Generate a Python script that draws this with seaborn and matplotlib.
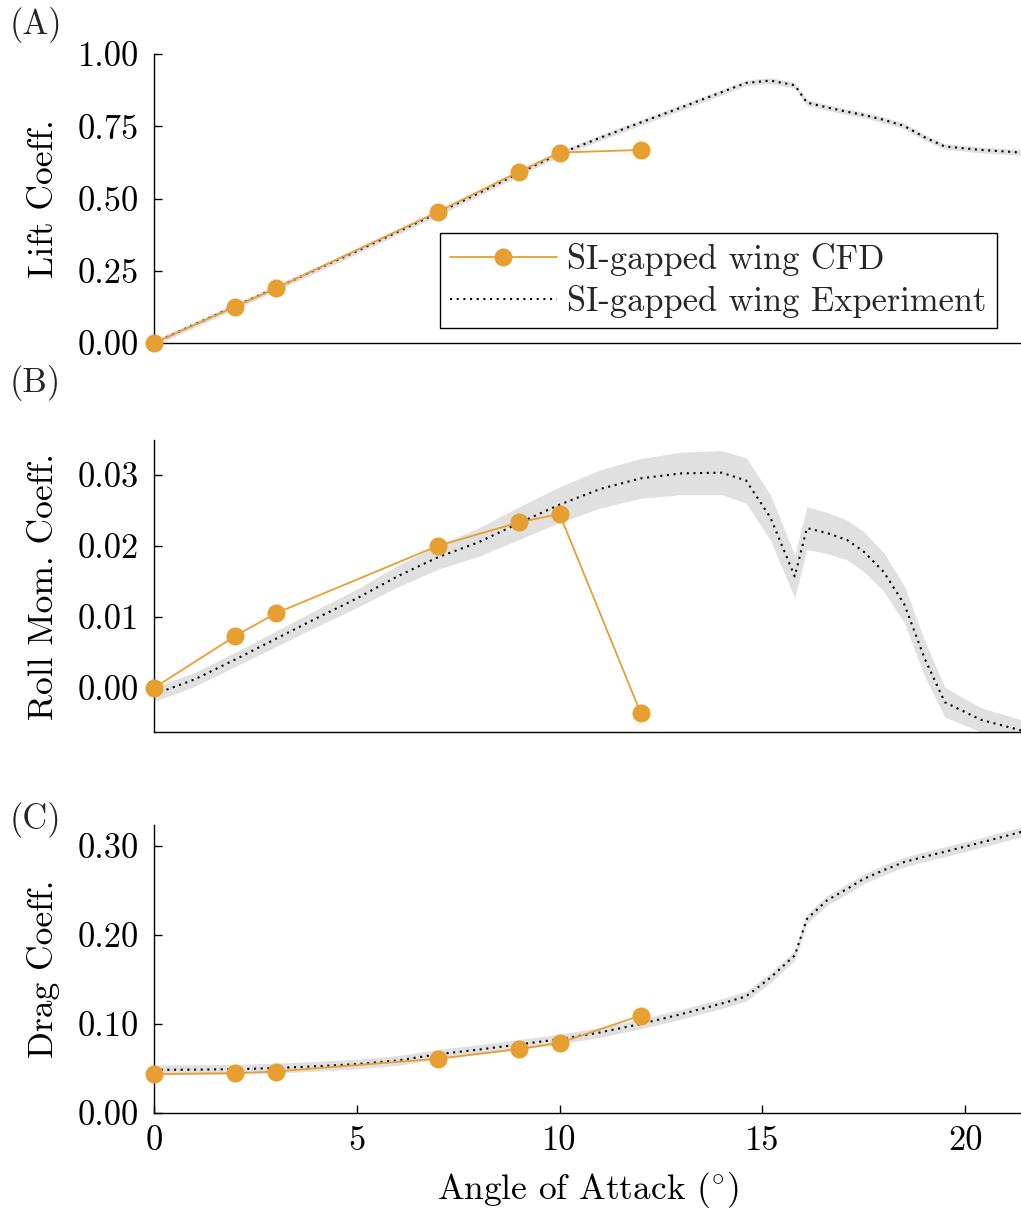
import numpy as np
import pandas as pd
import matplotlib
matplotlib.use("Agg")
import matplotlib.pyplot as plt
import seaborn as sns
from matplotlib.ticker import FormatStrFormatter, FixedLocator

# ---------------- data ----------------
cfd_alpha = [0, 2, 3, 7, 9, 10, 12]
cfd_lift = [0.000, 0.126, 0.189, 0.454, 0.593, 0.659, 0.668]
cfd_roll = [0.0000, 0.0073, 0.0105, 0.0200, 0.0233, 0.0245, -0.0035]
cfd_drag = [0.0437, 0.0448, 0.0466, 0.0610, 0.0719, 0.0787, 0.1095]

exp_alpha = [0, 1, 2, 3, 4, 5, 6, 7, 8, 9, 10, 11, 12, 13, 14, 14.6, 15.2,
             15.8, 16.1, 16.6, 17.1, 17.5, 18, 18.5, 19, 19.5, 20.4, 21.4]
exp_lift = [0.000, 0.064, 0.127, 0.190, 0.254, 0.318, 0.384, 0.450, 0.518,
            0.588, 0.655, 0.710, 0.763, 0.815, 0.868, 0.900, 0.908, 0.892,
            0.832, 0.815, 0.800, 0.789, 0.772, 0.751, 0.712, 0.680, 0.668, 0.659]
exp_lift_err = [0.010] * 28
exp_roll = [-0.0009, 0.0012, 0.0040, 0.0069, 0.0098, 0.0126, 0.0157, 0.0184,
            0.0205, 0.0232, 0.0258, 0.0280, 0.0295, 0.0302, 0.0303, 0.0292,
            0.0240, 0.0157, 0.0225, 0.0218, 0.0208, 0.0192, 0.0163, 0.0118,
            0.0042, -0.0020, -0.0045, -0.0060]
exp_roll_err = [0.0010, 0.0010, 0.0010, 0.0011, 0.0012, 0.0013, 0.0015, 0.0017,
                0.0020, 0.0023, 0.0025, 0.0027, 0.0028, 0.0030, 0.0031, 0.0032,
                0.0032, 0.0030, 0.0030, 0.0029, 0.0028, 0.0028, 0.0027, 0.0026,
                0.0025, 0.0021, 0.0017, 0.0015]
exp_drag = [0.0485, 0.0487, 0.0492, 0.0505, 0.0525, 0.0550, 0.0590, 0.0660,
            0.0712, 0.0770, 0.0830, 0.0905, 0.1000, 0.1110, 0.1230, 0.1310,
            0.1520, 0.1770, 0.2180, 0.2390, 0.2520, 0.2630, 0.2730, 0.2820,
            0.2880, 0.2935, 0.3040, 0.3160]
exp_drag_err = [0.0055] * 28

panel_tags = ["(A)", "(B)", "(C)"]
y_labels = ["Lift Coeff.", "Roll Mom. Coeff.", "Drag Coeff."]
y_ticks = [[0.0, 0.25, 0.5, 0.75, 1.0], [0.0, 0.01, 0.02, 0.03], [0.0, 0.1, 0.2, 0.3]]
x_ticks = [0, 5, 10, 15, 20]
x_label = r"Angle of Attack $(^{\circ})$"
legend_labels = ["SI-gapped wing CFD", "SI-gapped wing Experiment"]

# ---------------- style ----------------
sns.set_theme(style="ticks")
plt.rcParams["font.family"] = ["cmr10", "DejaVu Serif"]
plt.rcParams["mathtext.fontset"] = "cm"
plt.rcParams["axes.formatter.use_mathtext"] = True
plt.rcParams["axes.unicode_minus"] = False

FS = 24.8
LFS = 25.5
ORANGE = "#E89F31"
BAND = "#E0E0E0"

cfd_df = pd.DataFrame({"alpha": cfd_alpha, "lift": cfd_lift, "roll": cfd_roll, "drag": cfd_drag})
exp_df = pd.DataFrame({"alpha": exp_alpha, "lift": exp_lift, "roll": exp_roll, "drag": exp_drag,
                       "lift_err": exp_lift_err, "roll_err": exp_roll_err, "drag_err": exp_drag_err})

fig = plt.figure(figsize=(10.21, 12.16), dpi=100)
W, H = 1021, 1216
boxes = [(54, 343), (440, 732), (825, 1113)]
ylims = [(0.0, 1.0), (-0.0062, 0.0349), (0.0, 0.3236)]
tag_y = [25, 383, 820]
cols = ["lift", "roll", "drag"]

axes = []
for i, (top, bot) in enumerate(boxes):
    ax = fig.add_axes([154 / W, 1 - bot / H, (W - 154) / W, (bot - top) / H])
    axes.append(ax)
    c = cols[i]
    ax.fill_between(exp_df["alpha"], exp_df[c] - exp_df[c + "_err"], exp_df[c] + exp_df[c + "_err"],
                    color=BAND, linewidth=0, zorder=1)
    sns.lineplot(data=exp_df, x="alpha", y=c, ax=ax, color="black", linewidth=1.5,
                 linestyle=(0, (1, 2.2)), zorder=2, label=legend_labels[1] if i == 0 else None,
                 legend=False)
    sns.lineplot(data=cfd_df, x="alpha", y=c, ax=ax, color=ORANGE, linewidth=1.3,
                 marker="o", markersize=13, markeredgewidth=0, zorder=3, clip_on=False,
                 label=legend_labels[0] if i == 0 else None, legend=False)
    ax.set_xlim(0, 21.38)
    ax.set_ylim(*ylims[i])
    ax.yaxis.set_major_locator(FixedLocator(y_ticks[i]))
    ax.yaxis.set_major_formatter(FormatStrFormatter("%.2f"))
    ax.tick_params(axis="y", direction="in", length=6, width=1, labelsize=FS, pad=11, colors="black")
    for s in ["top", "right"]:
        ax.spines[s].set_visible(False)
    for s in ["left", "bottom"]:
        ax.spines[s].set_color("black")
        ax.spines[s].set_linewidth(1.0)
    ax.set_ylabel(y_labels[i], fontsize=LFS, color="black")
    ax.yaxis.set_label_coords(-0.108, 0.5)
    if i < 2:
        ax.tick_params(axis="x", length=0, labelbottom=False)
        ax.set_xlabel("")
    else:
        ax.xaxis.set_major_locator(FixedLocator(x_ticks))
        ax.xaxis.set_major_formatter(FormatStrFormatter("%d"))
        ax.tick_params(axis="x", direction="in", length=6, width=1, labelsize=FS, pad=9, colors="black")
        ax.set_xlabel(x_label, fontsize=LFS, color="black", labelpad=9)
    ax.set_facecolor("white")
    fig.text(10 / W, 1 - tag_y[i] / H, panel_tags[i], fontsize=FS, ha="left", va="center")

ax0 = axes[0]
h, l = ax0.get_legend_handles_labels()
order = [l.index(legend_labels[0]), l.index(legend_labels[1])]
leg = ax0.legend([h[k] for k in order], [l[k] for k in order], loc="lower right",
                 bbox_to_anchor=(0.972, 0.052), borderaxespad=0, fontsize=FS, frameon=True,
                 fancybox=False, framealpha=1, edgecolor="black", handlelength=3.1,
                 handletextpad=0.3, borderpad=0.3, labelspacing=0.25)
leg.get_frame().set_linewidth(1.0)

fig.savefig("out.png", dpi=100, facecolor="white")
